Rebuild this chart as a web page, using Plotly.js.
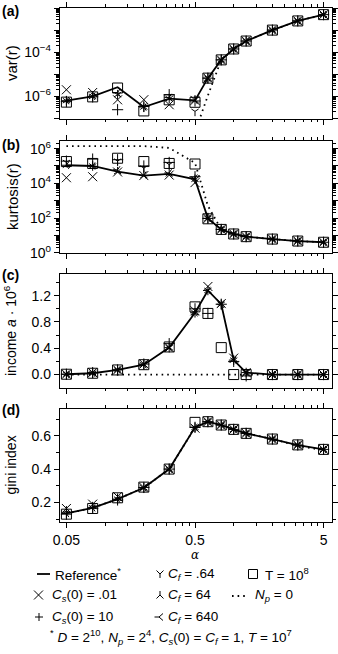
<!DOCTYPE html>
<html><head><meta charset="utf-8">
<script src="https://cdn.plot.ly/plotly-3.0.1.min.js"></script>
<style>html,body{margin:0;padding:0;background:#fff;} #chart{width:338px;height:654px;}</style>
</head><body><div id="chart"></div>
<script>
// ---------------- data ----------------
const alpha = [0.05,0.08,0.125,0.2,0.315,0.5,0.63,0.8,1,1.25,2,3.15,5];

// (a) var(r)
const varRef   = [6.4e-7,1.0e-6,2.6e-6,3.3e-7,7.9e-7,6.6e-7,6.7e-6,4.5e-5,1.4e-4,3.2e-4,1.0e-3,2.6e-3,5.0e-3];
const varCs01  = [2.0e-6,1.5e-6,7.0e-7,7.1e-7,4.2e-7,6.6e-7,6.7e-6,4.5e-5,1.4e-4,3.2e-4,1.0e-3,2.6e-3,5.0e-3];
const varCs10  = [5.8e-7,9.5e-7,2.5e-7,3.5e-7,1.2e-6,6.2e-7,6.7e-6,4.5e-5,1.4e-4,3.2e-4,1.0e-3,2.6e-3,5.0e-3];
const varCf064 = [6.4e-7,1.0e-6,1.2e-6,3.3e-7,7.9e-7,2.1e-7,6.7e-6,4.5e-5,1.4e-4,3.2e-4,1.0e-3,2.6e-3,5.0e-3];
const varCf64  = [6.4e-7,1.0e-6,1.2e-6,3.3e-7,7.9e-7,6.6e-7,6.7e-6,4.5e-5,1.4e-4,3.2e-4,1.0e-3,2.6e-3,5.0e-3];
const varCf640 = [6.4e-7,1.0e-6,1.5e-6,3.3e-7,9.0e-7,6.6e-7,6.7e-6,4.5e-5,1.4e-4,3.2e-4,1.0e-3,2.6e-3,5.0e-3];
const varT8    = [5.5e-7,9.5e-7,2.4e-6,2.2e-7,7.0e-7,5.4e-7,6.7e-6,4.5e-5,1.4e-4,3.2e-4,1.0e-3,2.6e-3,5.0e-3];
const varNp0   = [null,null,null,null,null,2.4e-8,1.1e-6,4.5e-5,1.4e-4,3.2e-4,1.0e-3,2.6e-3,5.0e-3];

// (b) kurtosis(r)
const kurRef   = [1.1e5,1.0e5,4.7e4,2.8e4,3.5e4,1.7e4,95,22,12,8.4,6.1,4.7,4.0];
const kurCs01  = [2.1e4,2.4e4,4.5e4,2.8e4,3.0e4,1.1e4,95,22,12,8.4,6.1,4.7,4.0];
const kurCs10  = [1.9e5,2.5e5,2.3e5,1.0e5,1.6e5,2.4e4,95,22,12,8.4,6.1,4.7,4.0];
const kurCf064 = [1.6e5,1.0e5,1.9e5,7.5e4,1.2e5,1.7e4,95,22,12,8.4,6.1,4.7,4.0];
const kurCf64  = [1.1e5,1.0e5,4.7e4,2.8e4,3.5e4,1.7e4,95,22,12,8.4,6.1,4.7,4.0];
const kurCf640 = [1.1e5,1.0e5,6.0e4,3.0e4,4.0e4,2.0e4,95,22,12,8.4,6.1,4.7,4.0];
const kurT8    = [1.8e5,1.4e5,2.8e5,1.8e5,1.4e5,1.3e5,90,22,12,8.4,6.1,4.7,4.0];
const kurNp0   = [1.4e6,1.4e6,1.4e6,1.4e6,1.1e6,1.5e5,500,22,12,8.4,6.1,4.7,4.0];

// (c) income a * 10^6
const incRef   = [0.005,0.02,0.07,0.15,0.41,0.94,1.28,1.07,0.22,0.03,0.0,0.0,0.0];
const incCs01  = [0.005,0.03,0.07,0.16,0.41,0.97,1.34,1.08,0.25,0.03,0.0,0.0,0.0];
const incCs10  = [0.005,0.03,0.07,0.16,0.47,1.00,0.93,1.07,0.20,-0.02,0.0,0.0,0.0];
const incCf064 = [0.005,0.02,0.07,0.15,0.41,0.94,1.28,1.07,0.22,0.03,0.0,0.0,0.0];
const incCf64  = [0.005,0.02,0.07,0.15,0.41,0.94,1.28,1.07,0.22,0.03,0.0,0.0,0.0];
const incCf640 = [0.005,0.02,0.07,0.15,0.41,0.94,1.28,1.07,0.22,0.03,0.0,0.0,0.0];
const incT8    = [0.005,0.02,0.07,0.15,0.42,1.03,0.93,0.41,0.0,0.0,0.0,0.0,0.0];
const incNp0   = [0,0,0,0,0,0,0,0,0,0,0,0,0];

// (d) gini index
const giniRef   = [0.134,0.168,0.22,0.288,0.4,0.65,0.684,0.664,0.638,0.614,0.58,0.544,0.518];
const giniCs01  = [0.164,0.19,0.235,0.29,0.4,0.645,0.684,0.664,0.638,0.614,0.58,0.544,0.518];
const giniCs10  = [0.13,0.165,0.215,0.29,0.4,0.65,0.684,0.664,0.638,0.614,0.58,0.544,0.518];
const giniCf064 = [0.134,0.168,0.22,0.288,0.4,0.65,0.684,0.664,0.638,0.614,0.58,0.544,0.518];
const giniCf64  = [0.15,0.175,0.225,0.288,0.4,0.65,0.684,0.664,0.638,0.614,0.58,0.544,0.518];
const giniCf640 = [0.134,0.168,0.22,0.288,0.4,0.65,0.684,0.664,0.638,0.614,0.58,0.544,0.518];
const giniT8    = [0.13,0.164,0.228,0.292,0.4,0.68,0.684,0.664,0.638,0.614,0.58,0.545,0.518];
const giniNp0   = [0.134,0.168,0.22,0.288,0.4,0.65,0.684,0.664,0.638,0.614,0.58,0.540,0.513];

// tick labels
const xTickVals = [0.05,0.5,5];
const xTickText = ['0.05','0.5','5'];
const varTickText = ['','10<sup>−6</sup>','','10<sup>−4</sup>','','10<sup>−2</sup>'];
const kurTickText = ['10<sup>0</sup>','','10<sup>2</sup>','','10<sup>4</sup>','','10<sup>6</sup>'];
const incTickText = ['0.0','0.4','0.8','1.2'];
const giniTickText = ['0.2','0.4','0.6'];

// ---------------- layout helpers ----------------
const W=338, H=654, L=60, R=332, T=8, B=522;
const FONT = 'Liberation Sans, Arial, Helvetica, sans-serif';
function px(x){return (x-L)/(R-L);}
function py(y){return (B-y)/(B-T);}
function dom(top,bot){return [py(bot),py(top)];}

const minorX = [];
[0.05,0.5].forEach(b=>{for(let k=2;k<=9;k++) minorX.push(+(b*k).toFixed(4));});
function decades(a,b){const v=[];for(let e=a;e<=b;e++) v.push(Math.pow(10,e));return v;}
function logMinor(a,b){const v=[];for(let e=a;e<b;e++){for(let k=2;k<=9;k++) v.push(k*Math.pow(10,e));}return v;}

const axCommon = {
  showline:true, linecolor:'#000', linewidth:1.2, mirror:'ticks',
  ticks:'outside', ticklen:5, tickwidth:1, tickcolor:'#000',
  showgrid:false, zeroline:false, automargin:false,
  tickfont:{family:FONT,size:14,color:'#000'}
};
function xAx(yid, labels){
  return Object.assign({}, axCommon, {
    type:'log', range:[-1.351,0.7645], anchor:yid,
    tickmode:'array', tickvals:xTickVals, ticktext:xTickText, showticklabels:labels,
    minor:{tickmode:'array', tickvals:minorX, ticks:'outside', ticklen:2.5, tickwidth:1, tickcolor:'#000'}
  });
}
function yAx(xid, domain, extra){
  return Object.assign({}, axCommon, {anchor:xid, domain:domain}, extra);
}

const layout = {
  width:W, height:H, margin:{l:L, r:W-R, t:T, b:H-B},
  paper_bgcolor:'#fff', plot_bgcolor:'#fff', showlegend:false,
  font:{family:FONT, size:14, color:'#000'},
  xaxis: xAx('y', false),
  xaxis2: xAx('y2', false),
  xaxis3: xAx('y3', false),
  xaxis4: xAx('y4', true),
  yaxis: yAx('x', dom(8,118.5), {type:'log', range:[-7,-2], tickmode:'array',
    tickvals:decades(-7,-2), ticktext:varTickText,
    minor:{tickmode:'array', tickvals:logMinor(-7,-2), ticks:'outside', ticklen:2.5, tickwidth:1, tickcolor:'#000'}}),
  yaxis2: yAx('x2', dom(141,252.7), {type:'log', range:[0,6.44], tickmode:'array',
    tickvals:decades(0,6), ticktext:kurTickText,
    minor:{tickmode:'array', tickvals:logMinor(0,7).filter(v=>v<Math.pow(10,6.44)), ticks:'outside', ticklen:2.5, tickwidth:1, tickcolor:'#000'}}),
  yaxis3: yAx('x3', dom(274,387.7), {range:[-0.2,1.53], tickmode:'array',
    tickvals:[0,0.4,0.8,1.2], ticktext:incTickText,
    minor:{tickmode:'array', tickvals:[0.2,0.6,1.0,1.4], ticks:'outside', ticklen:2.5, tickwidth:1, tickcolor:'#000'}}),
  yaxis4: yAx('x4', dom(409,522), {range:[0.083,0.76], tickmode:'array',
    tickvals:[0.2,0.4,0.6], ticktext:giniTickText,
    minor:{tickmode:'array', tickvals:[0.1,0.3,0.5,0.7], ticks:'outside', ticklen:2.5, tickwidth:1, tickcolor:'#000'}}),
  annotations:[], shapes:[]
};

// ---------------- traces ----------------
const panels = [
  {x:'x',  y:'y',  d:{np0:varNp0, ref:varRef, t8:varT8, cs01:varCs01, cs10:varCs10, cf064:varCf064, cf64:varCf64, cf640:varCf640}},
  {x:'x2', y:'y2', d:{np0:kurNp0, ref:kurRef, t8:kurT8, cs01:kurCs01, cs10:kurCs10, cf064:kurCf064, cf64:kurCf64, cf640:kurCf640}},
  {x:'x3', y:'y3', d:{np0:incNp0, ref:incRef, t8:incT8, cs01:incCs01, cs10:incCs10, cf064:incCf064, cf64:incCf64, cf640:incCf640}},
  {x:'x4', y:'y4', d:{np0:giniNp0, ref:giniRef, t8:giniT8, cs01:giniCs01, cs10:giniCs10, cf064:giniCf064, cf64:giniCf64, cf640:giniCf640}}
];
const markerStyle = {
  t8:   {symbol:'square-open', size:10},
  cs01: {symbol:'x-thin', size:9},
  cs10: {symbol:'cross-thin', size:8},
  cf064:{symbol:'y-down', size:6},
  cf64: {symbol:'y-up', size:6},
  cf640:{symbol:'y-left', size:6}
};
const traces = [];
panels.forEach(p=>{
  traces.push({type:'scatter', mode:'lines', x:alpha, y:p.d.np0, xaxis:p.x, yaxis:p.y,
    line:{color:'#000', width:1.8, dash:'1.6px,4px'}, connectgaps:false, hoverinfo:'skip'});
  traces.push({type:'scatter', mode:'lines', x:alpha, y:p.d.ref, xaxis:p.x, yaxis:p.y,
    line:{color:'#000', width:1.8}, hoverinfo:'skip'});
  ['t8','cs01','cs10','cf064','cf64','cf640'].forEach(k=>{
    const s = markerStyle[k];
    traces.push({type:'scatter', mode:'markers', x:alpha, y:p.d[k], xaxis:p.x, yaxis:p.y, cliponaxis:true,
      marker:{symbol:s.symbol, size:s.size, color:'#000', line:{color:'#000', width:1}}, hoverinfo:'skip'});
  });
});

// ---------------- annotations ----------------
function ann(text, x, y, opts){
  layout.annotations.push(Object.assign({text:text, xref:'paper', yref:'paper', x:px(x), y:py(y),
    showarrow:false, xanchor:'left', yanchor:'middle', font:{family:FONT,size:14,color:'#000'}}, opts||{}));
}
// panel labels
ann('<b>(a)</b>', 0, 11);
ann('<b>(b)</b>', 0, 145);
ann('<b>(c)</b>', 0, 275);
ann('<b>(d)</b>', 0, 410);
// y titles
ann('var(r)', 12, 63, {xanchor:'center', textangle:-90, font:{family:FONT,size:15,color:'#000'}});
ann('kurtosis(r)', 12, 197, {xanchor:'center', textangle:-90, font:{family:FONT,size:15,color:'#000'}});
ann('income <i>a</i> · 10<sup>6</sup>', 10, 331, {xanchor:'center', textangle:-90, font:{family:FONT,size:14,color:'#000'}});
ann('gini index', 10, 465.5, {xanchor:'center', textangle:-90, font:{family:FONT,size:14,color:'#000'}});
// x title
ann('<i>α</i>', 195, 555, {xanchor:'center', font:{family:'DejaVu Serif, serif',size:12,color:'#000'}});

// legend
const LF = {family:FONT, size:13.5, color:'#000'};
ann('Reference<sup>*</sup>', 53, 574, {font:LF});
ann('<i>C<sub>s</sub></i>(0) = .01', 50, 595, {font:LF});
ann('<i>C<sub>s</sub></i>(0) = 10', 50, 617, {font:LF});
ann('<i>C<sub>f</sub></i> = .64', 166, 574, {font:LF});
ann('<i>C<sub>f</sub></i> = 64', 166, 595, {font:LF});
ann('<i>C<sub>f</sub></i> = 640', 166, 617, {font:LF});
ann('T = 10<sup>8</sup>', 263, 574, {font:LF});
ann('<i>N<sub>p</sub></i> = 0', 253, 595, {font:LF});
ann('<sup>*</sup> <i>D</i> = 2<sup>10</sup>, <i>N<sub>p</sub></i> = 2<sup>4</sup>, <i>C<sub>s</sub></i>(0) = <i>C<sub>f</sub></i> = 1, <i>T</i> = 10<sup>7</sup>', 171, 637, {xanchor:'center', font:LF});

function key(cx, cy, path, w){
  layout.shapes.push({type:'path', xref:'paper', yref:'paper', xsizemode:'pixel', ysizemode:'pixel',
    xanchor:px(cx), yanchor:py(cy), path:path, line:{color:'#000', width:w||1}});
}
key(43.5, 574, 'M-6.5,0L6.5,0', 1.8);
key(38.5, 595, 'M-4.5,-4.5L4.5,4.5M-4.5,4.5L4.5,-4.5');
key(39, 617, 'M-4,0L4,0M0,-4L0,4');
key(160, 574, 'M-3.5,3.5L0,0L3.5,3.5M0,0L0,-4');
key(160, 595, 'M-3.5,-3.5L0,0L3.5,-3.5M0,0L0,4');
key(159, 617, 'M-4.5,0L0,0M0,0L4,3.5M0,0L4,-3.5');
key(253, 574, 'M-4.5,-4.5L4.5,-4.5L4.5,4.5L-4.5,4.5Z');
layout.shapes.push({type:'line', xref:'paper', yref:'paper', x0:px(232), x1:px(248), y0:py(596), y1:py(596),
  line:{color:'#000', width:1.8, dash:'1.6px,4px'}});

Plotly.newPlot('chart', traces, layout, {staticPlot:true, displayModeBar:false});
</script></body></html>
